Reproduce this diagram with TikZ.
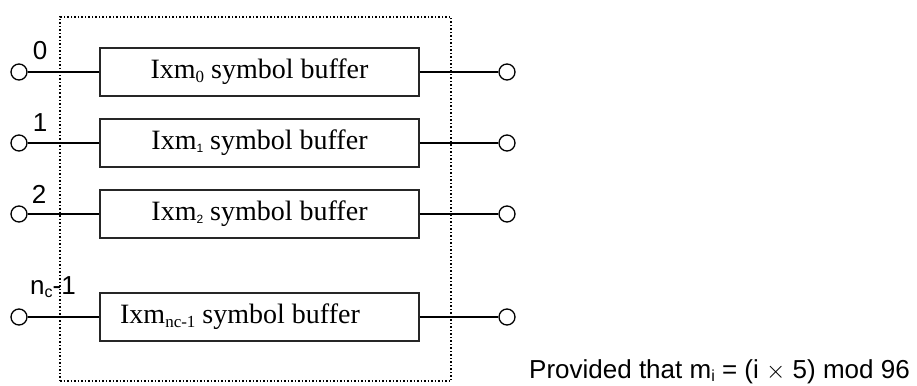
\documentclass[tikz,border=0pt]{standalone}
\usepackage{fontspec}
\setmainfont{Liberation Serif}
\newfontfamily\arialf{Liberation Sans}
\newcommand\mysubs[1]{\raisebox{-0.3ex}{\fontsize{17}{17}\selectfont #1}}
\newcommand\mytiny[1]{\raisebox{-0.2ex}{\arialf\fontsize{12}{12}\selectfont #1}}
\begin{document}
\begin{tikzpicture}[x=1pt,y=-1pt,
  bufbox/.style={draw=black!85,line width=1.3pt,minimum width=319pt,minimum height=48pt,inner sep=0pt,font=\fontsize{28}{30}\selectfont},
  term/.style={circle,draw,line width=1.3pt,fill=white,minimum size=16pt,inner sep=0pt},
  wire/.style={line width=2.6pt},
  frame/.style={draw,dotted,line width=1.5pt},
  lbl/.style={inner sep=0pt,font=\arialf\fontsize{26}{30}\selectfont}]
\useasboundingbox (0,0) rectangle (917,385);
\node[frame,minimum width=391pt,minimum height=364pt,inner sep=0pt] (fr) at (255.5,199) {};
\node[bufbox] (b0) at (259.5,72) {Ixm\mysubs{0} symbol buffer};
\node[bufbox] (b1) at (259.5,143) {Ixm\mytiny{1} symbol buffer};
\node[bufbox] (b2) at (259.5,214) {Ixm\mytiny{2} symbol buffer};
\node[bufbox] (b3) at (259.5,317) {Ixm\mysubs{nc-1} symbol buffer\hspace*{39pt}};
\foreach \i/\y in {0/72,1/143,2/214,3/317}{
  \node[term] (l\i) at (19,\y) {};
  \node[term] (r\i) at (507,\y) {};
  \draw[wire] (l\i) -- (b\i);
  \draw[wire] (b\i) -- (r\i);
}
\node[lbl] (t0) at (40,51) {0};
\node[lbl] (t1) at (40,123) {1};
\node[lbl] (t2) at (39,194) {2};
\node[lbl,anchor=west] (t3) at (30,287) {n{\fontsize{16}{16}\selectfont\raisebox{-0.3ex}{c}}-1};
\node[lbl,anchor=west] (note) at (529,372) {Provided that m{\fontsize{16}{16}\selectfont\raisebox{-0.3ex}{i}} = (i $\times$ 5) mod 96};
\end{tikzpicture}
\end{document}
